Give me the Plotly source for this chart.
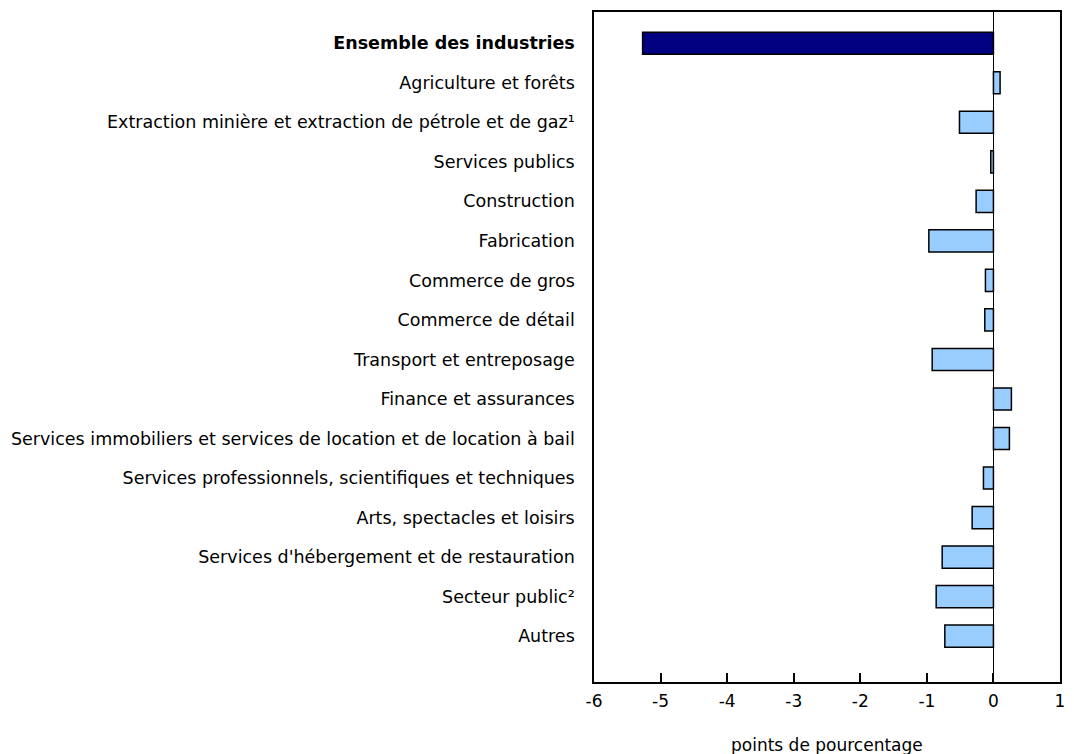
import plotly.graph_objects as go

categories = [
    "Ensemble des industries",
    "Agriculture et forêts",
    "Extraction minière et extraction de pétrole et de gaz¹",
    "Services publics",
    "Construction",
    "Fabrication",
    "Commerce de gros",
    "Commerce de détail",
    "Transport et entreposage",
    "Finance et assurances",
    "Services immobiliers et services de location et de location à bail",
    "Services professionnels, scientifiques et techniques",
    "Arts, spectacles et loisirs",
    "Services d'hébergement et de restauration",
    "Secteur public²",
    "Autres",
]
values = [-5.27, 0.10, -0.51, -0.04, -0.26, -0.97, -0.12, -0.13, -0.92,
          0.27, 0.24, -0.15, -0.32, -0.77, -0.86, -0.73]
x_ticks = [-6, -5, -4, -3, -2, -1, 0, 1]
x_ticklabels = ["-6", "-5", "-4", "-3", "-2", "-1", "0", "1"]
x_title = "points de pourcentage"

colors = ["#000080"] + ["#99CCFF"] * (len(categories) - 1)
ticktext = ["<b>" + categories[0] + "</b>"] + categories[1:]

fig = go.Figure(go.Bar(
    x=values, y=categories, orientation="h",
    marker=dict(color=colors, line=dict(color="black", width=1.5)),
    width=0.56,
))

H, T, B = 746, 4, 72
plot_h = H - T - B
fig.update_layout(
    width=1058, height=H,
    margin=dict(l=586, r=6, t=T, b=B, autoexpand=False),
    plot_bgcolor="white", paper_bgcolor="white",
    font=dict(family="DejaVu Sans", size=17.5, color="black"),
    showlegend=False,
    annotations=[dict(text=x_title, xref="paper", yref="paper",
                      x=0.5, y=-63 / plot_h, xanchor="center", yanchor="middle",
                      showarrow=False, font=dict(size=17))],
)
fig.update_xaxes(
    range=[-6, 1], tickvals=x_ticks, ticktext=x_ticklabels,
    ticks="inside", ticklen=9, tickcolor="black", tickwidth=1.5,
    ticklabeloverflow="allow", ticklabelstandoff=3,
    showline=True, linecolor="black", linewidth=1.5, mirror=True,
    showgrid=False, zeroline=True, zerolinecolor="black", zerolinewidth=1.2,
    tickfont=dict(size=17), automargin=False,
)
fig.update_yaxes(
    tickmode="array", tickvals=categories, ticktext=ticktext,
    range=[16.16, -0.79], ticks="", ticklabelstandoff=14,
    showline=True, linecolor="black", linewidth=1.5, mirror=True,
    showgrid=False, automargin=False,
)
fig.write_html("out.html")
